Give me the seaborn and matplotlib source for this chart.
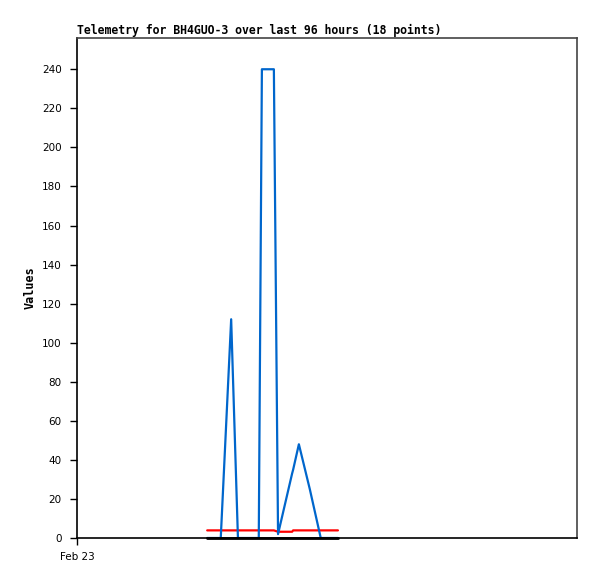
import matplotlib
matplotlib.use("Agg")
import matplotlib.pyplot as plt
import seaborn as sns
import pandas as pd

# hours since Feb 23 00:00 (x axis spans 96 hours)
hours = [25.0, 26.3, 27.6, 29.6, 30.9, 32.8, 34.9, 35.5, 36.7, 37.8,
         38.6, 41.3, 41.5, 42.6, 44.7, 46.8, 48.6, 50.1]
blue_vals = [0, 0, 0, 112, 0, 0, 0, 240, 240, 240,
             2, 33, 35, 48, 25, 0, 0, 0]
red_vals = [3.9, 3.9, 3.9, 3.9, 3.9, 3.9, 3.9, 3.9, 3.9, 3.9,
            3.2, 3.2, 3.9, 3.9, 3.9, 3.9, 3.9, 3.9]
black_vals = [0] * 18
y_ticks = list(range(0, 241, 20))
x_tick_labels = ["Feb 23"]

title = "Telemetry for BH4GUO-3 over last 96 hours (18 points)"

sns.set_style("white")
plt.rcParams['font.family'] = ['DejaVu Sans Mono', 'DejaVu Sans']
plt.rcParams['text.color'] = 'black'
plt.rcParams['axes.labelcolor'] = 'black'
plt.rcParams['xtick.color'] = 'black'
plt.rcParams['ytick.color'] = 'black'

df = pd.DataFrame({"t": hours, "blue": blue_vals, "red": red_vals, "black": black_vals})

fig = plt.figure(figsize=(5.97, 5.79), dpi=100)
ax = fig.add_axes([77/597, 1 - 538/579, 500/597, 500/579])

sns.lineplot(data=df, x="t", y="red", ax=ax, color="#ff0000", linewidth=1.6)
sns.lineplot(data=df, x="t", y="blue", ax=ax, color="#0066cc", linewidth=1.6)
sns.lineplot(data=df, x="t", y="black", ax=ax, color="black", linewidth=2.0)
ax.lines[-1].set_zorder(3)
ax.lines[-1].set_clip_on(False)

ax.set_xlim(0, 96)
ax.set_ylim(0, 256)
ax.set_yticks(y_ticks)
ax.set_yticklabels([str(v) for v in y_ticks], fontsize=7.5, family="DejaVu Sans")
ax.set_xticks([0])
ax.set_xticklabels(x_tick_labels, fontsize=7.5, family="DejaVu Sans")
ax.tick_params(axis='both', direction='out', length=5, width=1, color='black',
               left=True, bottom=True, labelcolor='black')
ax.tick_params(axis='y', pad=6)
ax.tick_params(axis='x', pad=5)

for s in ['left', 'bottom']:
    ax.spines[s].set_color('black')
    ax.spines[s].set_linewidth(1.2)
for s in ['top', 'right']:
    ax.spines[s].set_color('#444444')
    ax.spines[s].set_linewidth(1.2)

ax.set_xlabel("")
ax.set_ylabel("Values", fontsize=8.5, fontweight='bold', labelpad=4, color='black')
ax.set_title(title, fontsize=8.3, fontweight='bold', loc='left', pad=3, color='black')
ax.grid(False)

fig.savefig("out.png", dpi=100)
